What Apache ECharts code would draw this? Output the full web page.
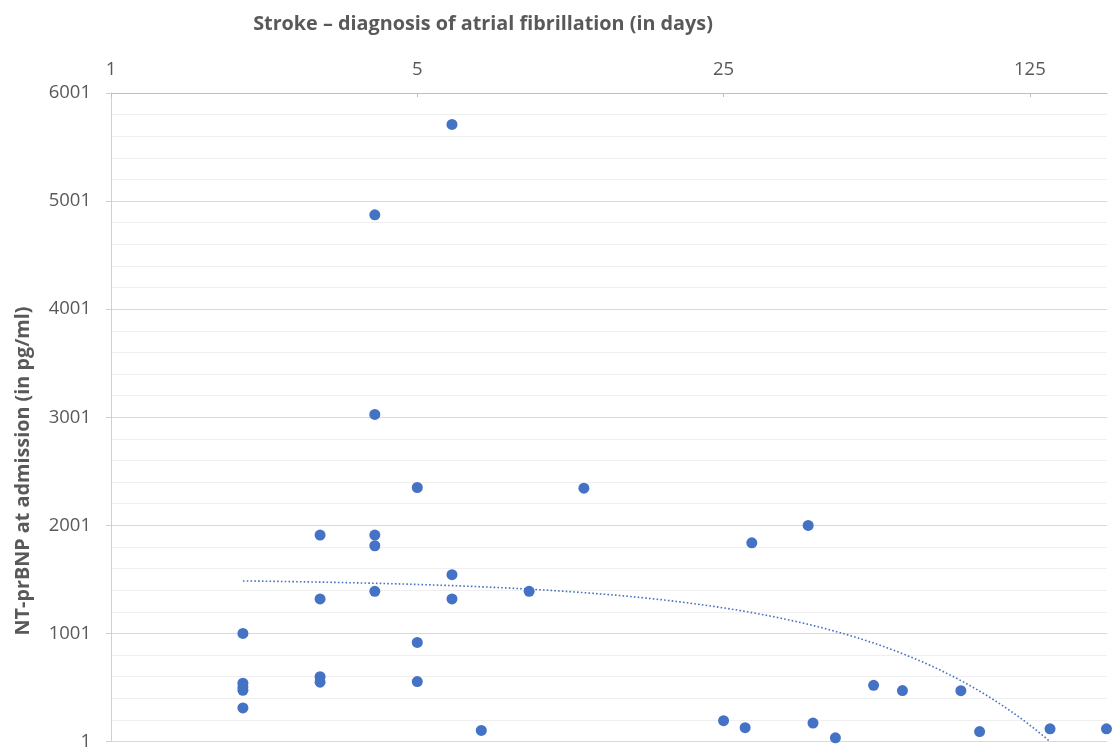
<!DOCTYPE html>
<html>
<head>
<meta charset="utf-8">
<script src="https://cdn.jsdelivr.net/npm/echarts@6/dist/echarts.min.js"></script>
<style>
  html, body { margin: 0; padding: 0; background: #ffffff; }
  #chart { width: 1112px; height: 751px; }
</style>
</head>
<body>
<div id="chart"></div>
<script>
// Days from stroke to diagnosis of atrial fibrillation (log scale, base 5)
const days = [
  2, 2, 2, 2, 2,
  3, 3, 3, 3,
  4, 4, 4, 4, 4,
  5, 5, 5,
  6, 6, 6,
  7, 9, 12,
  25, 28, 29, 39, 40, 45, 55, 64, 87, 96, 139, 187
];
// NT-proBNP at admission (pg/ml), one value per patient above
const ntProBNP = [
  1001, 540, 505, 475, 312,
  1911, 1320, 600, 550,
  4874, 3027, 1911, 1812, 1390,
  2351, 918, 555,
  5710, 1544, 1320,
  103, 1390, 2345,
  194, 129, 1839, 2000, 172, 35, 521, 472, 471, 93, 118, 118
];
const xTickValues = [1, 5, 25, 125];
const yTickLabels = ['1', '1001', '2001', '3001', '4001', '5001', '6001'];

const titleText = 'Stroke \u2013 diagnosis of atrial fibrillation (in days)';
const yAxisTitle = 'NT-prBNP at admission (in pg/ml)';

const blue = '#4472C4';
const textGray = '#595959';
const font = 'Open Sans';

// Ordinary least-squares linear trend y = a + b*x over the patients
function linearFit(xs, ys) {
  const n = xs.length;
  let sx = 0, sy = 0, sxx = 0, sxy = 0;
  for (let i = 0; i < n; i++) {
    sx += xs[i]; sy += ys[i];
    sxx += xs[i] * xs[i]; sxy += xs[i] * ys[i];
  }
  const b = (n * sxy - sx * sy) / (n * sxx - sx * sx);
  const a = (sy - b * sx) / n;
  return { a, b };
}
const fit = linearFit(days, ntProBNP);
const yMin = 1;
const xStart = Math.min(...days);
let xEnd = Math.max(...days);
if (fit.b < 0) xEnd = Math.min(xEnd, (yMin - fit.a) / fit.b);
// The straight trend curves on a log axis, so trace it with many steps
const trendPoints = [];
const steps = 240;
for (let i = 0; i <= steps; i++) {
  const x = xStart * Math.pow(xEnd / xStart, i / steps);
  trendPoints.push([x, fit.a + fit.b * x]);
}

const points = days.map((d, i) => [d, ntProBNP[i]]);

const chart = echarts.init(document.getElementById('chart'), null, { renderer: 'canvas' });
chart.setOption({
  backgroundColor: '#ffffff',
  animation: false,
  textStyle: { fontFamily: font },
  title: {
    text: titleText,
    left: 478, top: 9,
    textAlign: 'center',
    textStyle: { fontFamily: font, fontSize: 19.8, fontWeight: 'bold', color: textGray }
  },
  graphic: [{
    type: 'text',
    x: 23, y: 471,
    rotation: Math.PI / 2,
    style: {
      text: yAxisTitle,
      fontFamily: font, fontSize: 19.8, fontWeight: 'bold',
      fill: textGray,
      align: 'center', verticalAlign: 'middle'
    }
  }],
  grid: { left: 111, right: 5, top: 93, bottom: 9, containLabel: false },
  xAxis: {
    type: 'log',
    logBase: 5,
    position: 'top',
    min: 1,
    max: 187.5,
    axisLine: { show: true, onZero: false, lineStyle: { color: '#bfbfbf', width: 1 } },
    axisTick: {
      show: true, inside: true, length: 4,
      customValues: xTickValues,
      lineStyle: { color: '#bfbfbf' }
    },
    axisLabel: {
      margin: 14,
      customValues: xTickValues,
      fontFamily: font, fontSize: 18.5, color: textGray,
      formatter: v => String(Math.round(v))
    },
    splitLine: { show: false },
    splitArea: { show: false },
    minorTick: { show: false },
    minorSplitLine: { show: false }
  },
  yAxis: {
    type: 'value',
    min: 1,
    max: 6001,
    interval: 1000,
    axisLine: { show: true, onZero: false, lineStyle: { color: '#d0d0d0', width: 1 } },
    axisTick: { show: true, inside: false, length: 5, lineStyle: { color: '#d0d0d0' } },
    axisLabel: {
      margin: 20,
      fontFamily: font, fontSize: 18.5, color: textGray,
      formatter: v => {
        const s = String(Math.round(v));
        return yTickLabels.includes(s) ? s : '';
      }
    },
    splitLine: { show: true, lineStyle: { color: '#d9d9d9', width: 1 } },
    minorTick: { show: false, splitNumber: 5 },
    minorSplitLine: { show: true, lineStyle: { color: '#efefef', width: 1 } }
  },
  series: [
    {
      name: 'trend',
      type: 'line',
      data: trendPoints,
      showSymbol: false,
      silent: true,
      clip: true,
      lineStyle: { color: blue, width: 1.6, type: [1.6, 2.2] },
      z: 1
    },
    {
      name: 'patients',
      type: 'scatter',
      data: points,
      symbol: 'circle',
      symbolSize: 11,
      clip: false,
      itemStyle: { color: blue, opacity: 1 },
      z: 2
    }
  ]
});
</script>
</body>
</html>
